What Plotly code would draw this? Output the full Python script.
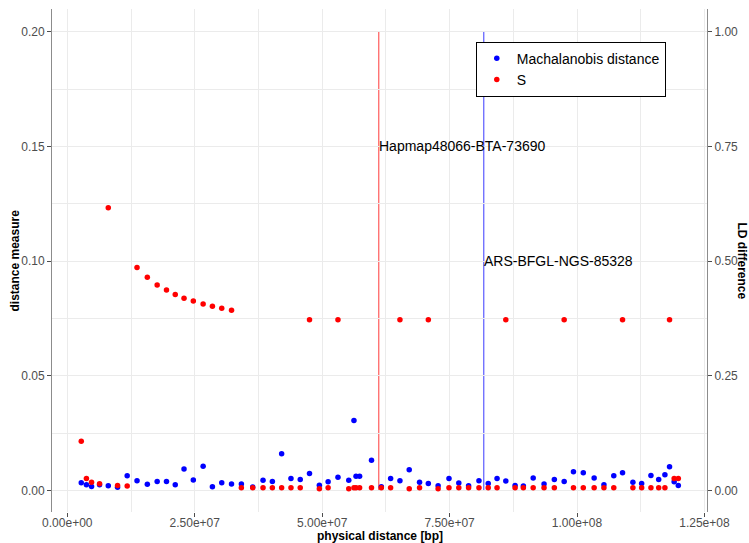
import plotly.graph_objects as go

# physical positions [bp] (shared by both series)
positions = [
    2.74e6, 3.75e6, 4.76e6, 6.33e6, 8.04e6, 9.86e6, 11.75e6, 13.68e6, 15.7e6, 17.63e6,
    19.46e6, 21.18e6, 22.9e6, 24.72e6, 26.65e6, 28.47e6, 30.3e6, 32.22e6, 34.15e6, 36.38e6,
    38.4e6, 40.23e6, 42.05e6, 43.88e6, 45.7e6, 47.52e6, 49.45e6, 51.17e6, 53.1e6, 55.22e6,
    56.24e6, 56.64e6, 57.35e6, 59.68e6, 61.61e6, 63.43e6, 65.26e6, 67.08e6, 69.11e6, 70.83e6,
    72.75e6, 74.88e6, 76.81e6, 78.73e6, 80.76e6, 82.58e6, 84.31e6, 86.03e6, 87.85e6, 89.47e6,
    91.4e6, 93.53e6, 95.55e6, 97.48e6, 99.3e6, 101.23e6, 103.36e6, 105.28e6, 107.21e6, 108.93e6,
    110.96e6, 112.68e6, 114.5e6, 116.02e6, 117.24e6, 118.15e6, 119.06e6, 119.87e6,
]

mahalanobis = [
    0.0034, 0.0025, 0.0017, 0.0025, 0.0020, 0.0014, 0.0064, 0.0042, 0.0027, 0.0039,
    0.0039, 0.0025, 0.0093, 0.0045, 0.0105, 0.0016, 0.0034, 0.0028, 0.0028, 0.0015,
    0.0044, 0.0039, 0.0160, 0.0052, 0.0048, 0.0074, 0.0023, 0.0038, 0.0058, 0.0044,
    0.0305, 0.0062, 0.0062, 0.0132, 0.0016, 0.0052, 0.0042, 0.0090, 0.0036, 0.0030,
    0.0020, 0.0052, 0.0032, 0.0020, 0.0042, 0.0030, 0.0052, 0.0041, 0.0022, 0.0019,
    0.0054, 0.0028, 0.0048, 0.0039, 0.0081, 0.0077, 0.0054, 0.0025, 0.0064, 0.0077,
    0.0036, 0.0030, 0.0065, 0.0048, 0.0068, 0.0103, 0.0038, 0.0022,
]

s_values = [
    0.0215, 0.0052, 0.0036, 0.0029, 0.1233, 0.0022, 0.0019, 0.0972, 0.0929, 0.0896,
    0.0874, 0.0854, 0.0838, 0.0826, 0.0813, 0.0803, 0.0794, 0.0786, 0.0012, 0.0012,
    0.0012, 0.0012, 0.0012, 0.0012, 0.0012, 0.0744, 0.0007, 0.0012, 0.0744, 0.0007,
    0.0012, 0.0012, 0.0012, 0.0012, 0.0012, 0.0012, 0.0744, 0.0007, 0.0012, 0.0744,
    0.0007, 0.0012, 0.0012, 0.0012, 0.0012, 0.0012, 0.0012, 0.0744, 0.0012, 0.0012,
    0.0012, 0.0012, 0.0012, 0.0744, 0.0012, 0.0012, 0.0012, 0.0012, 0.0012, 0.0744,
    0.0012, 0.0012, 0.0012, 0.0012, 0.0012, 0.0744, 0.0052, 0.0052,
]

series_names = ["Machalanobis distance", "S"]

marker_names = ["Hapmap48066-BTA-73690", "ARS-BFGL-NGS-85328"]
marker_positions = [61.1e6, 81.7e6]
marker_label_y = [0.15, 0.10]
line_top = 0.20

x_tick_vals = [0, 2.5e7, 5.0e7, 7.5e7, 1.0e8, 1.25e8]
x_tick_text = ["0.00e+00", "2.50e+07", "5.00e+07", "7.50e+07", "1.00e+08", "1.25e+08"]
y_tick_vals = [0.00, 0.05, 0.10, 0.15, 0.20]
y_tick_text = ["0.00", "0.05", "0.10", "0.15", "0.20"]
y2_tick_vals = [0.00, 0.25, 0.50, 0.75, 1.00]
y2_tick_text = ["0.00", "0.25", "0.50", "0.75", "1.00"]

x_title = "physical distance [bp]"
y_title = "distance measure"
y2_title = "LD difference"

FONT = "Liberation Sans, Arial, sans-serif"
GRID = "#ebebeb"
TICKFONT = dict(family=FONT, size=12, color="#4d4d4d")
TITLEFONT = dict(family=FONT, size=12, color="black")

fig = go.Figure()

line_colors = ["rgba(255,0,0,0.6)", "rgba(0,0,255,0.6)"]
for name, xpos, ly, lc in zip(marker_names, marker_positions, marker_label_y, line_colors):
    fig.add_shape(type="line", x0=xpos, x1=xpos, y0=0, y1=line_top, xref="x", yref="y",
                  line=dict(color=lc, width=1.3), layer="below")
    fig.add_annotation(x=xpos, y=ly, xref="x", yref="y", text=name, showarrow=False,
                       xanchor="left", yanchor="middle", xshift=-2,
                       font=dict(family=FONT, size=14, color="black"))

fig.add_trace(go.Scatter(x=positions, y=mahalanobis, mode="markers", name=series_names[0],
                         marker=dict(color="#0000ff", size=5.5)))
fig.add_trace(go.Scatter(x=positions, y=s_values, mode="markers", name=series_names[1],
                         marker=dict(color="#ff0000", size=5.5)))
fig.add_trace(go.Scatter(x=[None], y=[None], yaxis="y2", showlegend=False, hoverinfo="skip"))

fig.update_layout(
    width=749, height=543,
    margin=dict(l=52, r=42, t=9, b=31, autoexpand=False),
    paper_bgcolor="white", plot_bgcolor="white",
    font=dict(family=FONT),
    showlegend=True,
    legend=dict(x=0.647, y=0.935, xanchor="left", yanchor="top",
                bgcolor="white", bordercolor="black", borderwidth=1,
                font=dict(family=FONT, size=14, color="black"),
                itemsizing="trace", tracegroupgap=0),
    xaxis=dict(
        range=[-3.0e6, 125.5e6], tickvals=x_tick_vals, ticktext=x_tick_text,
        showgrid=True, gridcolor=GRID, gridwidth=1, zeroline=False, showline=False,
        ticks="outside", ticklen=4, tickcolor="#4d4d4d", tickfont=TICKFONT, automargin=False,
        ticklabelstandoff=-4,
        minor=dict(showgrid=True, gridcolor=GRID, gridwidth=0.6, tick0=1.25e7, dtick=2.5e7),
    ),
    yaxis=dict(
        range=[-0.0094, 0.2099], tickvals=y_tick_vals, ticktext=y_tick_text,
        showgrid=True, gridcolor=GRID, gridwidth=1, zeroline=False,
        showline=True, linecolor="#8c8c8c", linewidth=1, automargin=False,
        ticks="outside", ticklen=4, tickcolor="#4d4d4d", tickfont=TICKFONT,
        minor=dict(showgrid=True, gridcolor=GRID, gridwidth=0.6, tick0=0.025, dtick=0.05),
    ),
    yaxis2=dict(
        overlaying="y", side="right", anchor="x", automargin=False,
        range=[-0.047, 1.0495], tickvals=y2_tick_vals, ticktext=y2_tick_text,
        showgrid=False, zeroline=False, showline=True, linecolor="#8c8c8c", linewidth=1,
        ticks="outside", ticklen=4, tickcolor="#4d4d4d", tickfont=TICKFONT,
    ),
)

# axis titles
fig.add_annotation(x=0.5, y=0, xref="paper", yref="paper", xanchor="center", yanchor="middle",
                   yshift=-24, borderpad=0, text="<b>" + x_title + "</b>", showarrow=False,
                   font=TITLEFONT)
fig.add_annotation(x=0, y=0.5, xref="paper", yref="paper", xanchor="center", yanchor="middle",
                   xshift=-38, text="<b>" + y_title + "</b>", textangle=-90, showarrow=False,
                   font=TITLEFONT)
fig.add_annotation(x=1, y=0.5, xref="paper", yref="paper", xanchor="center", yanchor="middle",
                   xshift=35, text="<b>" + y2_title + "</b>", textangle=90, showarrow=False,
                   font=TITLEFONT)

fig.write_html("out.html", config={"displayModeBar": False},
               post_script="document.body.style.margin='0';")
